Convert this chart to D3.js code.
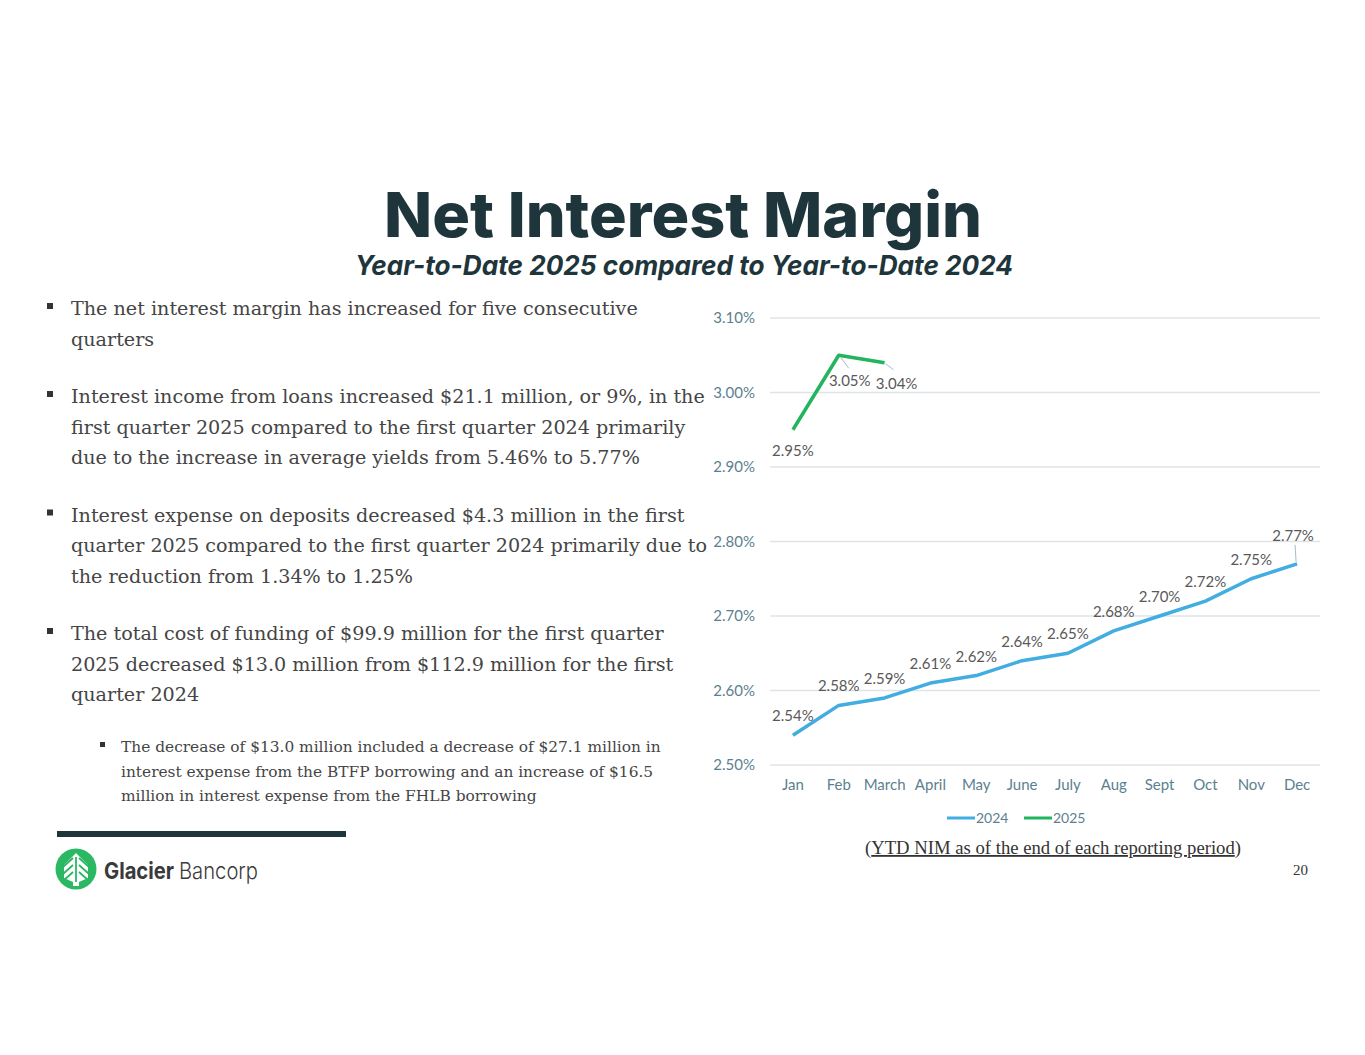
<!DOCTYPE html>
<html>
<head>
<meta charset="utf-8">
<script src="https://cdn.jsdelivr.net/npm/d3@7"></script>
<style>
  body { margin: 0; background: #fff; }
  svg { display: block; }
</style>
</head>
<body>
<svg id="slide" width="1365" height="1055"></svg>
<script>
// chart data
const months = ["Jan", "Feb", "March", "April", "May", "June", "July", "Aug", "Sept", "Oct", "Nov", "Dec"];
const nim2024 = [2.54, 2.58, 2.59, 2.61, 2.62, 2.64, 2.65, 2.68, 2.70, 2.72, 2.75, 2.77];
const nim2025 = [2.95, 3.05, 3.04];
const yTicks = [2.5, 2.6, 2.7, 2.8, 2.9, 3.0, 3.1];
const seriesNames = ["2024", "2025"];

const bullets = [
  ["The net interest margin has increased for five consecutive", "quarters"],
  ["Interest income from loans increased $21.1 million, or 9%, in the", "first quarter 2025 compared to the first quarter 2024 primarily", "due to the increase in average yields from 5.46% to 5.77%"],
  ["Interest expense on deposits decreased $4.3 million in the first", "quarter 2025 compared to the first quarter 2024 primarily due to", "the reduction from 1.34% to 1.25%"],
  ["The total cost of funding of $99.9 million for the first quarter", "2025 decreased $13.0 million from $112.9 million for the first", "quarter 2024"]
];
const subBullet = ["The decrease of $13.0 million included a decrease of $27.1 million in", "interest expense from the BTFP borrowing and an increase of $16.5", "million in interest expense from the FHLB borrowing"];

const dark = "#1e353b";
const blue = "#41ade0";
const green = "#23b460";
const svg = d3.select("#slide");

// title
svg.append("text")
  .attr("x", 683).attr("y", 237)
  .attr("text-anchor", "middle")
  .attr("font-family", "Inter, 'Open Sans', sans-serif")
  .attr("font-weight", 800)
  .attr("font-size", 62)
  .attr("fill", dark)
  .attr("textLength", 598).attr("lengthAdjust", "spacingAndGlyphs")
  .text("Net Interest Margin");
svg.append("text")
  .attr("x", 684).attr("y", 275)
  .attr("text-anchor", "middle")
  .attr("font-family", "Inter, 'Open Sans', sans-serif")
  .attr("font-weight", 700)
  .attr("font-style", "italic")
  .attr("font-size", 27)
  .attr("fill", dark)
  .attr("textLength", 658).attr("lengthAdjust", "spacingAndGlyphs")
  .text("Year-to-Date 2025 compared to Year-to-Date 2024");

// bullet text
const body = svg.append("g")
  .attr("font-family", "'DejaVu Serif', serif")
  .attr("fill", "#454545");
let y = 315;
bullets.forEach(function (lines) {
  body.append("rect").attr("x", 47).attr("y", y - 12).attr("width", 6).attr("height", 6).attr("fill", "#333");
  lines.forEach(function (line) {
    body.append("text").attr("x", 71).attr("y", y).attr("font-size", 19.15).text(line);
    y += 30.5;
  });
  y += 27;
});
y = 752;
body.append("rect").attr("x", 100).attr("y", y - 10).attr("width", 5).attr("height", 5).attr("fill", "#333");
subBullet.forEach(function (line) {
  body.append("text").attr("x", 121).attr("y", y).attr("font-size", 15.4).text(line);
  y += 24.5;
});

// chart
const x = d3.scaleBand().domain(months).range([770, 1320]);
const yScale = d3.scaleLinear().domain([2.5, 3.1]).range([765, 318]);
const cx = d => x(d) + x.bandwidth() / 2;

const grid = svg.append("g");
grid.selectAll("line").data(yTicks).join("line")
  .attr("x1", 770).attr("x2", 1320)
  .attr("y1", d => yScale(d)).attr("y2", d => yScale(d))
  .attr("stroke", "#dde5e8").attr("stroke-width", 1.3);

const chartFont = "Lato, 'Open Sans', sans-serif";
const yAxis = d3.axisLeft(yScale).tickValues(yTicks).tickFormat(d => d.toFixed(2) + "%").tickSize(0).tickPadding(0);
svg.append("g")
  .attr("transform", "translate(755,0)")
  .call(yAxis)
  .call(g => g.select(".domain").remove())
  .selectAll("text")
  .attr("font-family", chartFont)
  .attr("font-size", 15)
  .attr("fill", "#5b7f90");

const xAxis = d3.axisBottom(x).tickSize(0).tickPadding(0);
svg.append("g")
  .attr("transform", "translate(0,779)")
  .call(xAxis)
  .call(g => g.select(".domain").remove())
  .selectAll("text")
  .attr("font-family", chartFont)
  .attr("font-size", 15)
  .attr("fill", "#5b7f90");

const line = d3.line().x((d, i) => cx(months[i])).y(d => yScale(d));
svg.append("path").datum(nim2024)
  .attr("d", line).attr("fill", "none")
  .attr("stroke", blue).attr("stroke-width", 3.5).attr("stroke-linejoin", "round");
svg.append("path").datum(nim2025)
  .attr("d", line).attr("fill", "none")
  .attr("stroke", green).attr("stroke-width", 3.5).attr("stroke-linejoin", "round");

// data labels (nudges for the ones with leader lines)
const labels = svg.append("g")
  .attr("font-family", chartFont).attr("font-size", 15).attr("fill", "#595959")
  .attr("text-anchor", "middle");
nim2024.forEach(function (v, i) {
  let dx = 0, dy = -14;
  if (i === 11) { dx = -4; dy = -23; }
  labels.append("text").attr("x", cx(months[i]) + dx).attr("y", yScale(v) + dy).text(v.toFixed(2) + "%");
});
const nudge2025 = [[0, 26], [11, 31], [12, 26]];
nim2025.forEach(function (v, i) {
  const px = cx(months[i]), py = yScale(v);
  labels.append("text").attr("x", px + nudge2025[i][0]).attr("y", py + nudge2025[i][1]).text(v.toFixed(2) + "%");
});
// leader lines
const leader = svg.append("g").attr("stroke", "#a9bcc6").attr("stroke-width", 1);
leader.append("line")
  .attr("x1", cx("Feb") + 2).attr("y1", yScale(3.05) + 2)
  .attr("x2", cx("Feb") + 10).attr("y2", yScale(3.05) + 13);
leader.append("line")
  .attr("x1", cx("March") + 1).attr("y1", yScale(3.04) + 1)
  .attr("x2", cx("March") + 9).attr("y2", yScale(3.04) + 7);
leader.append("line")
  .attr("x1", cx("Dec") - 1).attr("y1", yScale(2.77) - 2)
  .attr("x2", cx("Dec") - 2).attr("y2", yScale(2.77) - 19);

// legend
const legend = svg.append("g").attr("font-family", chartFont).attr("font-size", 14).attr("fill", "#5b7f90");
seriesNames.forEach(function (name, i) {
  const lx = 947 + i * 77;
  legend.append("line").attr("x1", lx).attr("x2", lx + 28).attr("y1", 818).attr("y2", 818)
    .attr("stroke", i === 0 ? blue : green).attr("stroke-width", 3);
  legend.append("text").attr("x", lx + 29).attr("y", 823).text(name);
});

// caption
const cap = svg.append("text")
  .attr("x", 1053).attr("y", 854).attr("text-anchor", "middle")
  .attr("font-family", "'Liberation Serif', serif").attr("font-size", 18).attr("fill", "#333")
  .attr("textLength", 376).attr("lengthAdjust", "spacingAndGlyphs");
cap.append("tspan").text("(");
cap.append("tspan").attr("text-decoration", "underline").text("YTD NIM as of the end of each reporting period");
cap.append("tspan").text(")");

// footer
svg.append("rect").attr("x", 57).attr("y", 831).attr("width", 289).attr("height", 6).attr("fill", dark);
svg.append("text").attr("x", 1308).attr("y", 875).attr("text-anchor", "end")
  .attr("font-family", "'Liberation Serif', serif").attr("font-size", 15).attr("fill", "#333").text("20");

// logo
const logo = svg.append("g").attr("transform", "translate(76,869)");
logo.append("circle").attr("r", 20.5).attr("fill", "#2bb862");
logo.append("path")
  .attr("d", "M0,-16 L12,-4 L12,9 L3,13 L3,17 L-3,17 L-3,13 L-12,9 L-12,-4 Z")
  .attr("fill", "#fff");
const cuts = logo.append("g").attr("stroke", "#2bb862").attr("stroke-width", 1.8).attr("fill", "none");
cuts.append("line").attr("x1", 0).attr("y1", -12).attr("x2", 0).attr("y2", 13);
[-6, 1, 8].forEach(function (ty) {
  cuts.append("path").attr("d", `M-13,${ty + 4} L-3,${ty - 5} M13,${ty + 4} L3,${ty - 5}`);
});
svg.append("text").attr("x", 104).attr("y", 879)
  .attr("font-family", "Inter, 'Open Sans', sans-serif").attr("font-size", 23).attr("font-weight", 700)
  .attr("fill", "#3a3a3a").attr("textLength", 70).attr("lengthAdjust", "spacingAndGlyphs").text("Glacier");
svg.append("text").attr("x", 179).attr("y", 879)
  .attr("font-family", "Inter, 'Open Sans', sans-serif").attr("font-size", 23).attr("font-weight", 300)
  .attr("fill", "#3a3a3a").attr("textLength", 79).attr("lengthAdjust", "spacingAndGlyphs").text("Bancorp");
</script>
</body>
</html>
